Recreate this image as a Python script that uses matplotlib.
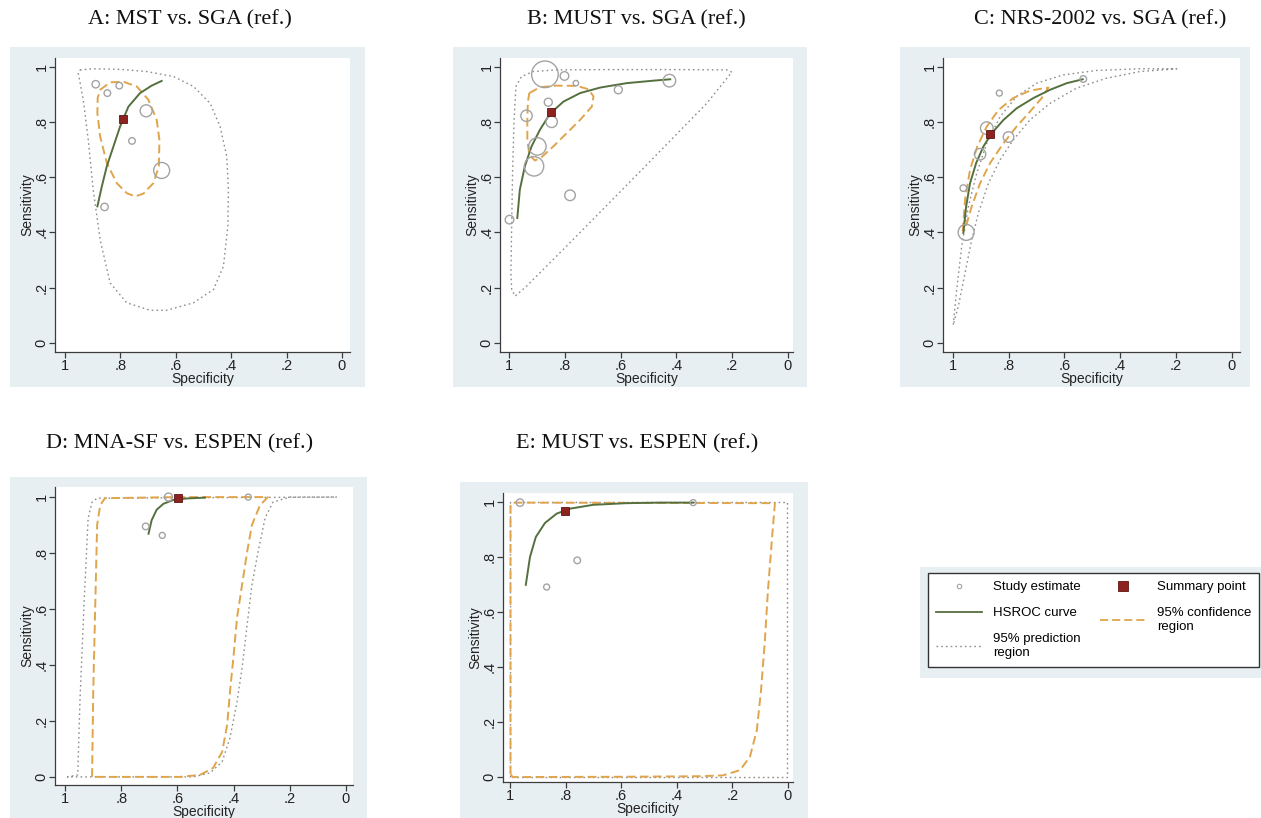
import matplotlib.pyplot as plt
from matplotlib.lines import Line2D
from matplotlib.patches import Rectangle
import numpy as np

# ---------------- data (specificity, sensitivity) ----------------
titles = ["A: MST vs. SGA (ref.)", "B: MUST vs. SGA (ref.)", "C: NRS-2002 vs. SGA (ref.)",
          "D: MNA-SF vs. ESPEN (ref.)", "E: MUST vs. ESPEN (ref.)"]

# A
a_spec = [0.889, 0.847, 0.804, 0.707, 0.758, 0.651, 0.857]
a_sens = [0.936, 0.904, 0.931, 0.840, 0.731, 0.624, 0.492]
a_wt = [3.7, 3.3, 3.3, 6.0, 3.3, 8.0, 3.7]
a_summary = [0.792, 0.812]
a_hsroc_spec = [0.883, 0.867, 0.849, 0.825, 0.801, 0.771, 0.729, 0.687, 0.651]
a_hsroc_sens = [0.494, 0.566, 0.639, 0.711, 0.783, 0.855, 0.904, 0.931, 0.948]
a_conf_spec = [0.873, 0.837, 0.789, 0.741, 0.699, 0.669, 0.659, 0.661, 0.681, 0.717, 0.747,
               0.777, 0.813, 0.849, 0.873, 0.883, 0.882, 0.873]
a_conf_sens = [0.916, 0.943, 0.945, 0.928, 0.880, 0.807, 0.735, 0.639, 0.578, 0.540, 0.530,
               0.542, 0.578, 0.651, 0.747, 0.831, 0.886, 0.916]
a_pred_spec = [0.946, 0.898, 0.801, 0.705, 0.608, 0.536, 0.476, 0.440, 0.416, 0.410, 0.412, 0.428,
               0.464, 0.536, 0.633, 0.693, 0.777, 0.837, 0.873, 0.898, 0.916, 0.934, 0.952, 0.946]
a_pred_sens = [0.988, 0.992, 0.990, 0.982, 0.964, 0.928, 0.867, 0.783, 0.675, 0.554, 0.422, 0.277,
               0.193, 0.145, 0.118, 0.118, 0.145, 0.217, 0.373, 0.554, 0.735, 0.880, 0.976, 0.988]

# B
b_spec = [0.871, 0.801, 0.760, 0.425, 0.608, 0.859, 0.937, 0.847, 0.898, 0.910, 0.781, 0.998]
b_sens = [0.972, 0.966, 0.940, 0.949, 0.916, 0.871, 0.822, 0.800, 0.711, 0.639, 0.534, 0.446]
b_wt = [13.3, 4.3, 2.7, 6.3, 4.0, 4.0, 5.7, 5.7, 8.7, 9.7, 5.3, 4.3]
b_summary = [0.850, 0.837]
b_hsroc_spec = [0.970, 0.961, 0.943, 0.919, 0.889, 0.853, 0.805, 0.745, 0.673, 0.578, 0.482, 0.422]
b_hsroc_sens = [0.452, 0.554, 0.639, 0.711, 0.771, 0.829, 0.873, 0.904, 0.924, 0.940, 0.949, 0.954]
b_conf_spec = [0.927, 0.889, 0.829, 0.757, 0.715, 0.697, 0.703, 0.745, 0.793, 0.841, 0.883,
               0.907, 0.927, 0.934, 0.934, 0.932, 0.927]
b_conf_sens = [0.904, 0.925, 0.931, 0.930, 0.918, 0.892, 0.855, 0.807, 0.759, 0.711, 0.672,
               0.660, 0.681, 0.735, 0.819, 0.873, 0.904]
b_pred_spec = [0.201, 0.219, 0.410, 0.650, 0.829, 0.913, 0.955, 0.975, 0.982, 0.987, 0.990,
               0.993, 0.990, 0.978, 0.937, 0.771, 0.530, 0.291, 0.201]
b_pred_sens = [0.980, 0.988, 0.989, 0.989, 0.988, 0.982, 0.964, 0.928, 0.795, 0.614, 0.434,
               0.253, 0.193, 0.169, 0.205, 0.373, 0.620, 0.867, 0.980]

# C
c_spec = [0.532, 0.833, 0.878, 0.800, 0.902, 0.962, 0.952]
c_sens = [0.955, 0.904, 0.777, 0.745, 0.683, 0.560, 0.400]
c_wt = [3.3, 3.0, 6.3, 5.3, 5.7, 3.3, 8.0]
c_summary = [0.866, 0.755]
c_hsroc_spec = [0.962, 0.952, 0.938, 0.916, 0.890, 0.860, 0.818, 0.771, 0.711, 0.651, 0.591, 0.534]
c_hsroc_sens = [0.398, 0.494, 0.578, 0.651, 0.711, 0.759, 0.807, 0.849, 0.886, 0.916, 0.940, 0.954]
c_conf_spec = [0.964, 0.956, 0.938, 0.912, 0.878, 0.836, 0.783, 0.723, 0.657,
               0.681, 0.723, 0.771, 0.818, 0.866, 0.902, 0.932, 0.956, 0.964]
c_conf_sens = [0.404, 0.518, 0.627, 0.711, 0.783, 0.843, 0.886, 0.913, 0.924,
               0.886, 0.837, 0.783, 0.723, 0.651, 0.578, 0.494, 0.410, 0.404]
c_pred_spec = [0.998, 0.986, 0.968, 0.944, 0.914, 0.878, 0.830, 0.771, 0.699, 0.603, 0.484, 0.329, 0.197,
               0.329, 0.448, 0.556, 0.651, 0.723, 0.783, 0.830, 0.872, 0.908, 0.932, 0.956, 0.980, 0.998]
c_pred_sens = [0.066, 0.193, 0.349, 0.494, 0.614, 0.723, 0.819, 0.892, 0.940, 0.970, 0.986, 0.992, 0.992,
               0.982, 0.958, 0.922, 0.867, 0.807, 0.735, 0.663, 0.578, 0.470, 0.373, 0.253, 0.133, 0.066]

# D
d_spec = [0.632, 0.348, 0.713, 0.654]
d_sens = [1.000, 1.000, 0.895, 0.863]
d_wt = [4.0, 3.0, 3.3, 3.0]
d_summary = [0.599, 0.995]
d_hsroc_spec = [0.703, 0.692, 0.674, 0.650, 0.614, 0.567, 0.502]
d_hsroc_sens = [0.869, 0.917, 0.955, 0.976, 0.990, 0.995, 0.998]
d_conf_spec = [0.904, 0.902, 0.900, 0.893, 0.886, 0.875, 0.858, 0.600, 0.278, 0.306, 0.335, 0.352,
               0.370, 0.388, 0.399, 0.413, 0.423, 0.441, 0.473, 0.520, 0.591, 0.750, 0.904]
d_conf_sens = [0.000, 0.150, 0.300, 0.600, 0.900, 0.971, 0.996, 1.000, 1.000, 0.971, 0.900, 0.804,
               0.686, 0.568, 0.446, 0.304, 0.186, 0.089, 0.032, 0.007, 0.000, 0.000, 0.000]
d_pred_spec = [0.993, 0.955, 0.947, 0.932, 0.918, 0.904, 0.886, 0.032, 0.199, 0.260, 0.288, 0.313,
               0.335, 0.352, 0.370, 0.388, 0.413, 0.441, 0.484, 0.544, 0.993]
d_pred_sens = [0.000, 0.007, 0.275, 0.632, 0.925, 0.982, 0.996, 1.000, 1.000, 0.982, 0.925, 0.804,
               0.686, 0.543, 0.389, 0.268, 0.139, 0.054, 0.014, 0.000, 0.000]

# E
e_spec = [0.964, 0.341, 0.868, 0.758]
e_sens = [0.998, 0.998, 0.691, 0.788]
e_wt = [3.7, 3.0, 3.0, 3.3]
e_summary = [0.801, 0.968]
e_hsroc_spec = [0.943, 0.928, 0.907, 0.874, 0.832, 0.784, 0.701, 0.581, 0.461, 0.341]
e_hsroc_sens = [0.699, 0.800, 0.873, 0.924, 0.958, 0.976, 0.990, 0.996, 0.998, 0.998]
e_conf_spec = [0.998, 0.998, 0.990, 0.047, 0.058, 0.072, 0.083, 0.097, 0.112, 0.137,
               0.173, 0.234, 0.317, 0.600, 0.990, 0.998]
e_conf_sens = [0.010, 0.990, 0.998, 0.996, 0.862, 0.680, 0.498, 0.316, 0.171, 0.073,
               0.025, 0.006, 0.003, 0.001, 0.000, 0.010]
e_pred_spec = [0.999, 0.999, 0.003, 0.003, 0.999]
e_pred_sens = [0.001, 0.999, 0.999, 0.001, 0.001]

tick_vals = [0, 0.2, 0.4, 0.6, 0.8, 1]
tick_labs = ["0", ".2", ".4", ".6", ".8", "1"]

# ---------------- style ----------------
W, H = 1261, 818
BG = '#E8EFF2'
CIRCLE = '#A3A3A3'
RED = '#8C2320'
GREEN = '#55703E'
ORANGE = '#E0A54C'
DOT = '#8E8E8E'
AXC = '#3c3c3c'
plt.rcParams['font.family'] = ['Liberation Sans', 'DejaVu Sans']

fig = plt.figure(figsize=(W / 100, H / 100), dpi=100)


def px_rect(l, t, r, b):
    return [l / W, 1 - b / H, (r - l) / W, (b - t) / H]


def background(l, t, r, b):
    x0, y0, w, h = px_rect(l, t, r, b)
    fig.add_artist(Rectangle((x0, y0), w, h, transform=fig.transFigure,
                             facecolor=BG, edgecolor='none', zorder=-1))


def panel(box, xlim, ylim, spec, sens, wt, summ, hs, hsn, cs, csn, ps, psn):
    ax = fig.add_axes(px_rect(*box))
    ax.set_facecolor('white')
    ax.plot(ps, psn, color=DOT, lw=1.0, ls=(0, (1.2, 2.2)), zorder=2)
    ax.plot(cs, csn, color=ORANGE, lw=1.4, ls=(0, (4.5, 2.2)), zorder=2.5)
    ax.plot(hs, hsn, color=GREEN, lw=1.4, zorder=3)
    s = (2 * np.array(wt) * 0.72) ** 2
    ax.scatter(spec, sens, s=s, facecolors='none', edgecolors=CIRCLE, linewidths=1.0, zorder=4)
    ax.plot([summ[0]], [summ[1]], marker='s', ms=5.8, mfc=RED, mec='#5e1512', mew=0.6, zorder=5)
    ax.set_xlim(*xlim)
    ax.set_ylim(*ylim)
    for sp in ['top', 'right']:
        ax.spines[sp].set_visible(False)
    for sp in ['left', 'bottom']:
        ax.spines[sp].set_color(AXC)
        ax.spines[sp].set_linewidth(0.9)
    ax.set_xticks(tick_vals)
    ax.set_xticklabels(tick_labs)
    ax.set_yticks(tick_vals)
    ax.set_yticklabels(tick_labs, rotation=90, va='center')
    ax.tick_params(length=4, width=0.9, color=AXC, labelsize=10.5, labelcolor='#222222')
    ax.tick_params(axis='x', pad=1)
    ax.tick_params(axis='y', pad=0.5)
    ax.set_xlabel("Specificity", fontsize=10, labelpad=-0.5, color='#222222')
    ax.set_ylabel("Sensitivity", fontsize=10, labelpad=0, color='#222222')
    return ax


# backgrounds
background(10, 47, 365, 387)
background(453, 47, 807, 387)
background(900, 47, 1250, 387)
background(10, 477, 367, 818)
background(460, 482, 808, 818)
background(920, 567, 1261, 678)

panel((55, 58, 350, 352), (1.036, -0.029), (-0.033, 1.031),
      a_spec, a_sens, a_wt, a_summary, a_hsroc_spec, a_hsroc_sens,
      a_conf_spec, a_conf_sens, a_pred_spec, a_pred_sens)
panel((500, 58, 793, 352), (1.032, -0.018), (-0.033, 1.031),
      b_spec, b_sens, b_wt, b_summary, b_hsroc_spec, b_hsroc_sens,
      b_conf_spec, b_conf_sens, b_pred_spec, b_pred_sens)
panel((943, 58, 1240, 352), (1.035, -0.030), (-0.033, 1.031),
      c_spec, c_sens, c_wt, c_summary, c_hsroc_spec, c_hsroc_sens,
      c_conf_spec, c_conf_sens, c_pred_spec, c_pred_sens)
panel((55, 487, 353, 785), (1.036, -0.025), (-0.029, 1.036),
      d_spec, d_sens, d_wt, d_summary, d_hsroc_spec, d_hsroc_sens,
      d_conf_spec, d_conf_sens, d_pred_spec, d_pred_sens)
panel((503, 493, 793, 782), (1.025, -0.018), (-0.018, 1.033),
      e_spec, e_sens, e_wt, e_summary, e_hsroc_spec, e_hsroc_sens,
      e_conf_spec, e_conf_sens, e_pred_spec, e_pred_sens)

# titles
title_pos = [(190, 20), (636, 20), (1100, 20), (180, 444), (637, 444)]
for t, (x, y) in zip(titles, title_pos):
    fig.text(x / W, 1 - y / H, t, ha='center', va='center', fontsize=16,
             family=['Liberation Serif', 'DejaVu Serif'], color='#111111')

# legend
handles = [
    Line2D([], [], ls='none', marker='o', ms=3.2, mfc='none', mec=CIRCLE, mew=0.8),
    Line2D([], [], color=GREEN, lw=1.3),
    Line2D([], [], color=DOT, lw=1.0, ls=(0, (1.2, 2.2))),
    Line2D([], [], ls='none', marker='s', ms=6.5, mfc=RED, mec='#5e1512', mew=0.6),
    Line2D([], [], color=ORANGE, lw=1.3, ls=(0, (4.5, 2.2))),
]
labels = ["Study estimate", "HSROC curve", "95% prediction\nregion",
          "Summary point", "95% confidence\nregion"]
leg = fig.legend(handles, labels, ncol=2, loc='upper left',
                 bbox_to_anchor=(928 / W, 1 - 573 / H), borderaxespad=0,
                 frameon=True, fancybox=False,
                 edgecolor='#333333', facecolor='white', framealpha=1, fontsize=9.5,
                 handlelength=3.5, handletextpad=0.8, columnspacing=1.5,
                 borderpad=0.6, labelspacing=1.05)
leg.get_frame().set_linewidth(1.0)

fig.savefig("out.png", dpi=100)
